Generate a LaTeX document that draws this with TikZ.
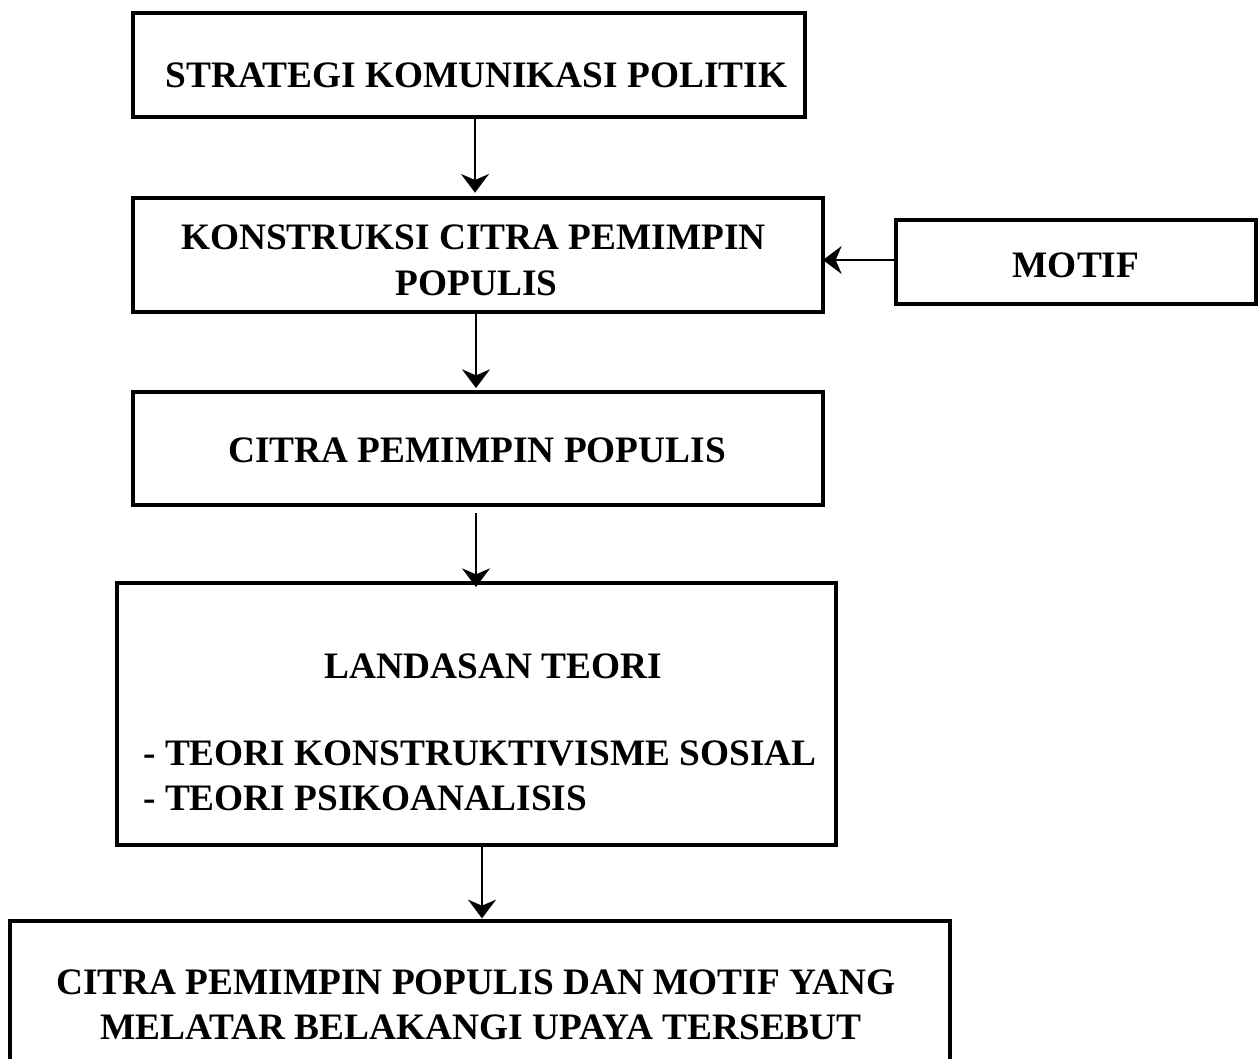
\documentclass[tikz,border=0pt]{standalone}
\usepackage{fontspec}
\setmainfont{Liberation Serif}
\usetikzlibrary{arrows.meta}
\begin{document}
\begin{tikzpicture}[x=0.75pt,y=-0.75pt,
  box/.style={draw, line width=2.6pt, inner sep=0pt, outer sep=0pt},
  lbl/.style={inner sep=0pt, anchor=base, font=\fontsize{28}{34}\selectfont\bfseries},
  lbll/.style={lbl, anchor=base west},
  arr/.style={line width=1.7pt, -{Stealth[length=14pt, width=21pt, inset=4.5pt]}}]
\useasboundingbox (0,0) rectangle (1258,1058);
\clip (0,0) rectangle (1258,1058);
\fill[white] (0,0) rectangle (1258,1058);
% boxes
\node[box, minimum width=504pt, minimum height=78pt] (b1) at (469,65) {};
\node[box, minimum width=517.5pt, minimum height=85.5pt] (b2) at (478,255) {};
\node[box, minimum width=270pt, minimum height=63pt] (b3) at (1076,262) {};
\node[box, minimum width=517.5pt, minimum height=84.75pt] (b4) at (478,448.5) {};
\node[box, minimum width=539.25pt, minimum height=196.5pt] (b5) at (476.5,714) {};
\node[box, minimum width=705pt, minimum height=149.25pt] (b6) at (480,1020.5) {};
% texts
\node[lbl] (t1) at (476.5,87) {STRATEGI KOMUNIKASI POLITIK};
\node[lbl] (t2a) at (473.5,249) {KONSTRUKSI CITRA PEMIMPIN};
\node[lbl] (t2b) at (476.5,295) {POPULIS};
\node[lbl] (t3) at (1076,277) {MOTIF};
\node[lbl] (t4) at (477,462) {CITRA PEMIMPIN POPULIS};
\node[lbl] (t5a) at (493.5,678) {LANDASAN TEORI};
\node[lbll] (t5b) at (143,765) {- TEORI KONSTRUKTIVISME SOSIAL};
\node[lbll] (t5c) at (143,810) {- TEORI PSIKOANALISIS};
\node[lbl] (t6a) at (476,994) {CITRA PEMIMPIN POPULIS DAN MOTIF YANG};
\node[lbl] (t6b) at (481,1039) {MELATAR BELAKANGI UPAYA TERSEBUT};
% connectors
\draw[arr, shorten >=4pt] (b1.south -| 475,0) -- (b2.north -| 475,0);
\draw[arr, shorten >=3pt] (b2.south -| 476,0) -- (b4.north -| 476,0);
\draw[arr, shorten <=6pt, shorten >=-3pt] (b4.south -| 476,0) -- (b5.north -| 476,0);
\draw[arr, shorten >=2pt] (b5.south -| 482,0) -- (b6.north -| 482,0);
\draw[arr] (b3.west |- 0,260) -- (b2.east |- 0,260);
\end{tikzpicture}
\end{document}
